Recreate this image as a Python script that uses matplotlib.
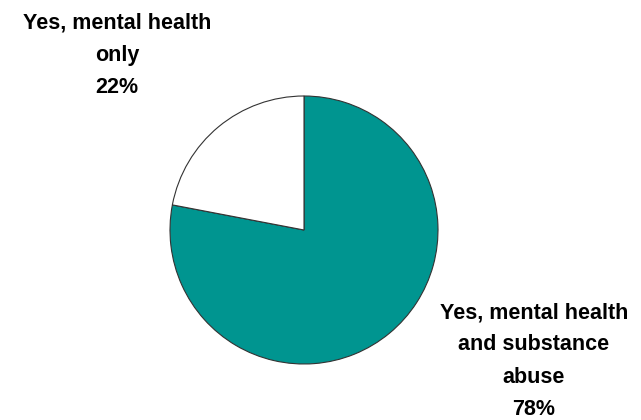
import matplotlib.pyplot as plt

labels = ["Yes, mental health\nand substance\nabuse", "Yes, mental health\nonly"]
shares = [78, 22]
colors = ["#009590", "#ffffff"]

plt.rcParams["font.family"] = ["Liberation Sans", "DejaVu Sans"]

W, H = 641, 420
fig = plt.figure(figsize=(W / 100, H / 100), dpi=100)
# axes in pixel units (y measured from the bottom)
ax = fig.add_axes([0, 0, 1, 1])

cx, cy, r = 304, H - 230, 134
ax.pie(
    shares,
    colors=colors,
    startangle=90,
    counterclock=False,
    center=(cx, cy),
    radius=r,
    wedgeprops=dict(edgecolor="#333333", linewidth=0.8),
    frame=True,
)
ax.set_xlim(0, W)
ax.set_ylim(0, H)
ax.set_aspect("equal")
ax.axis("off")

label_style = dict(ha="center", va="center", fontsize=15.5, fontweight="bold",
                   linespacing=1.7)
ax.text(534, H - 361, f"{labels[0]}\n{shares[0]}%", **label_style)
ax.text(117, H - 55, f"{labels[1]}\n{shares[1]}%", **label_style)

fig.savefig("out.png", dpi=100)
